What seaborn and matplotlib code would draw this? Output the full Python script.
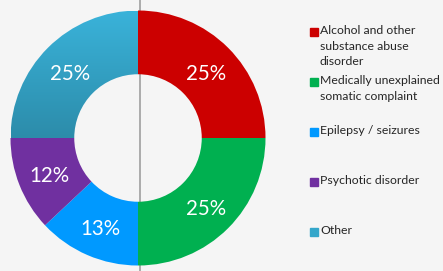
import matplotlib
matplotlib.use("Agg")
import matplotlib.pyplot as plt
import numpy as np
import seaborn as sns
from matplotlib.colors import LinearSegmentedColormap

labels = ["Alcohol and other\nsubstance abuse\ndisorder",
          "Medically unexplained\nsomatic complaint",
          "Epilepsy / seizures",
          "Psychotic disorder",
          "Other"]
shares = [25, 25, 13, 12, 25]
colors = ["#CC0000", "#00B050", "#0099FF", "#7030A0", "#34A6CA"]

sns.set_theme(style="white")
plt.rcParams["font.family"] = ["Lato", "DejaVu Sans"]

bg = "#F5F5F5"
fig = plt.figure(figsize=(4.43, 2.71), dpi=100, facecolor=bg)

# axis line behind the donut
fig.add_artist(plt.Line2D([139.5 / 443, 139.5 / 443], [0, 1], color="#ABABAB", lw=1.4, zorder=0))

ax = fig.add_axes([10.5 / 443, 5.5 / 271, 255 / 443, 255 / 271])
ax.patch.set_alpha(0)
wedges, texts, autotexts = ax.pie(
    shares, colors=colors, startangle=90, counterclock=False,
    autopct="%d%%", pctdistance=0.75,
    wedgeprops=dict(width=0.5, linewidth=0),
    textprops=dict(color="white", fontsize=14.8),
)

# gradient fill on the "Other" slice
teal = LinearSegmentedColormap.from_list("teal", ["#2C8CAA", "#3AB3DA"])
grad = np.linspace(0, 1, 256).reshape(-1, 1)
img = ax.imshow(grad, cmap=teal, origin="lower", extent=[-1, 0, 0, 1], aspect="auto", zorder=1)
img.set_clip_path(wedges[4])
wedges[4].set_facecolor("none")
for t in autotexts:
    t.set_zorder(3)
    x, y = t.get_position()
    t.set_position((x, y - 0.025))
ax.set_xlim(-1, 1)
ax.set_ylim(-1, 1)
ax.set_aspect("equal")
ax.axis("off")

# legend, PowerPoint style: evenly pitched entries, marker on first line
top = 25
pitch = 50
for i, (lab, col) in enumerate(zip(labels, colors)):
    y = top + i * pitch
    fig.add_artist(plt.Rectangle((310 / 443, 1 - (y + 11) / 271), 8 / 443, 8 / 271,
                                 color=col, transform=fig.transFigure))
    fig.text(320 / 443, 1 - y / 271, lab, fontsize=8.8, color="#262626",
             va="top", ha="left", linespacing=1.52)

fig.savefig("out.png", dpi=100, facecolor=bg)
